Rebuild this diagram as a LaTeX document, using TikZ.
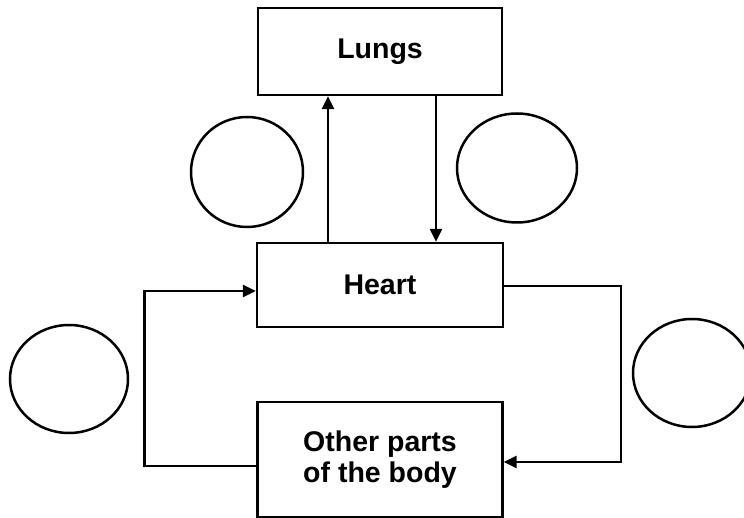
\documentclass[tikz,border=0pt]{standalone}
\usepackage{fontspec}
\setmainfont{Liberation Sans}
\usepackage{tikz}
\usetikzlibrary{arrows.meta, positioning, shapes.geometric}

\begin{document}
\begin{tikzpicture}[x=1pt, y=-1pt, >={Triangle[length=13pt, width=12pt]}, line width=2.3pt,
    organ/.style={draw, rectangle, align=center, font=\bfseries\fontsize{28.5}{31}\selectfont},
    blank/.style={draw, ellipse, line width=2.5pt, inner sep=0pt}]
        \useasboundingbox (0,0) rectangle (744,518);
        % Organs
        \node [organ, minimum width=244pt, minimum height=87pt] (lungs) at (380,51.5) {Lungs};
        \node [organ, minimum width=246pt, minimum height=84pt] (heart) at (380,285) {Heart};
        \node [organ, minimum width=245pt, minimum height=115pt] (body) at (380,459.5) {Other parts\\of the body};
        
        % Empty circles
        \node [blank, minimum width=112pt, minimum height=110pt] (blankTL) at (247,172) {};
        \node [blank, minimum width=120pt, minimum height=109pt] (blankTR) at (517,168) {};
        \node [blank, minimum width=118pt, minimum height=108pt] (blankBL) at (69,379) {};
        \node [blank, minimum width=118pt, minimum height=108pt] (blankBR) at (692,373) {};
        
        % Heart and lungs
        \draw [->] ([xshift=-52pt]heart.north) -- ([xshift=-52pt]lungs.south);
        \draw [->] ([xshift=56pt]lungs.south) -- ([xshift=56pt]heart.north);
        
        % Heart and body
        \draw [->] ([yshift=-1pt]heart.east) -- ++(117,0) |- ([yshift=-2.5pt]body.east);
        \draw [->] ([yshift=-6.5pt]body.west) -- ++(-112,0) |- ([yshift=-6pt]heart.west);
    \end{tikzpicture}
\end{document}
